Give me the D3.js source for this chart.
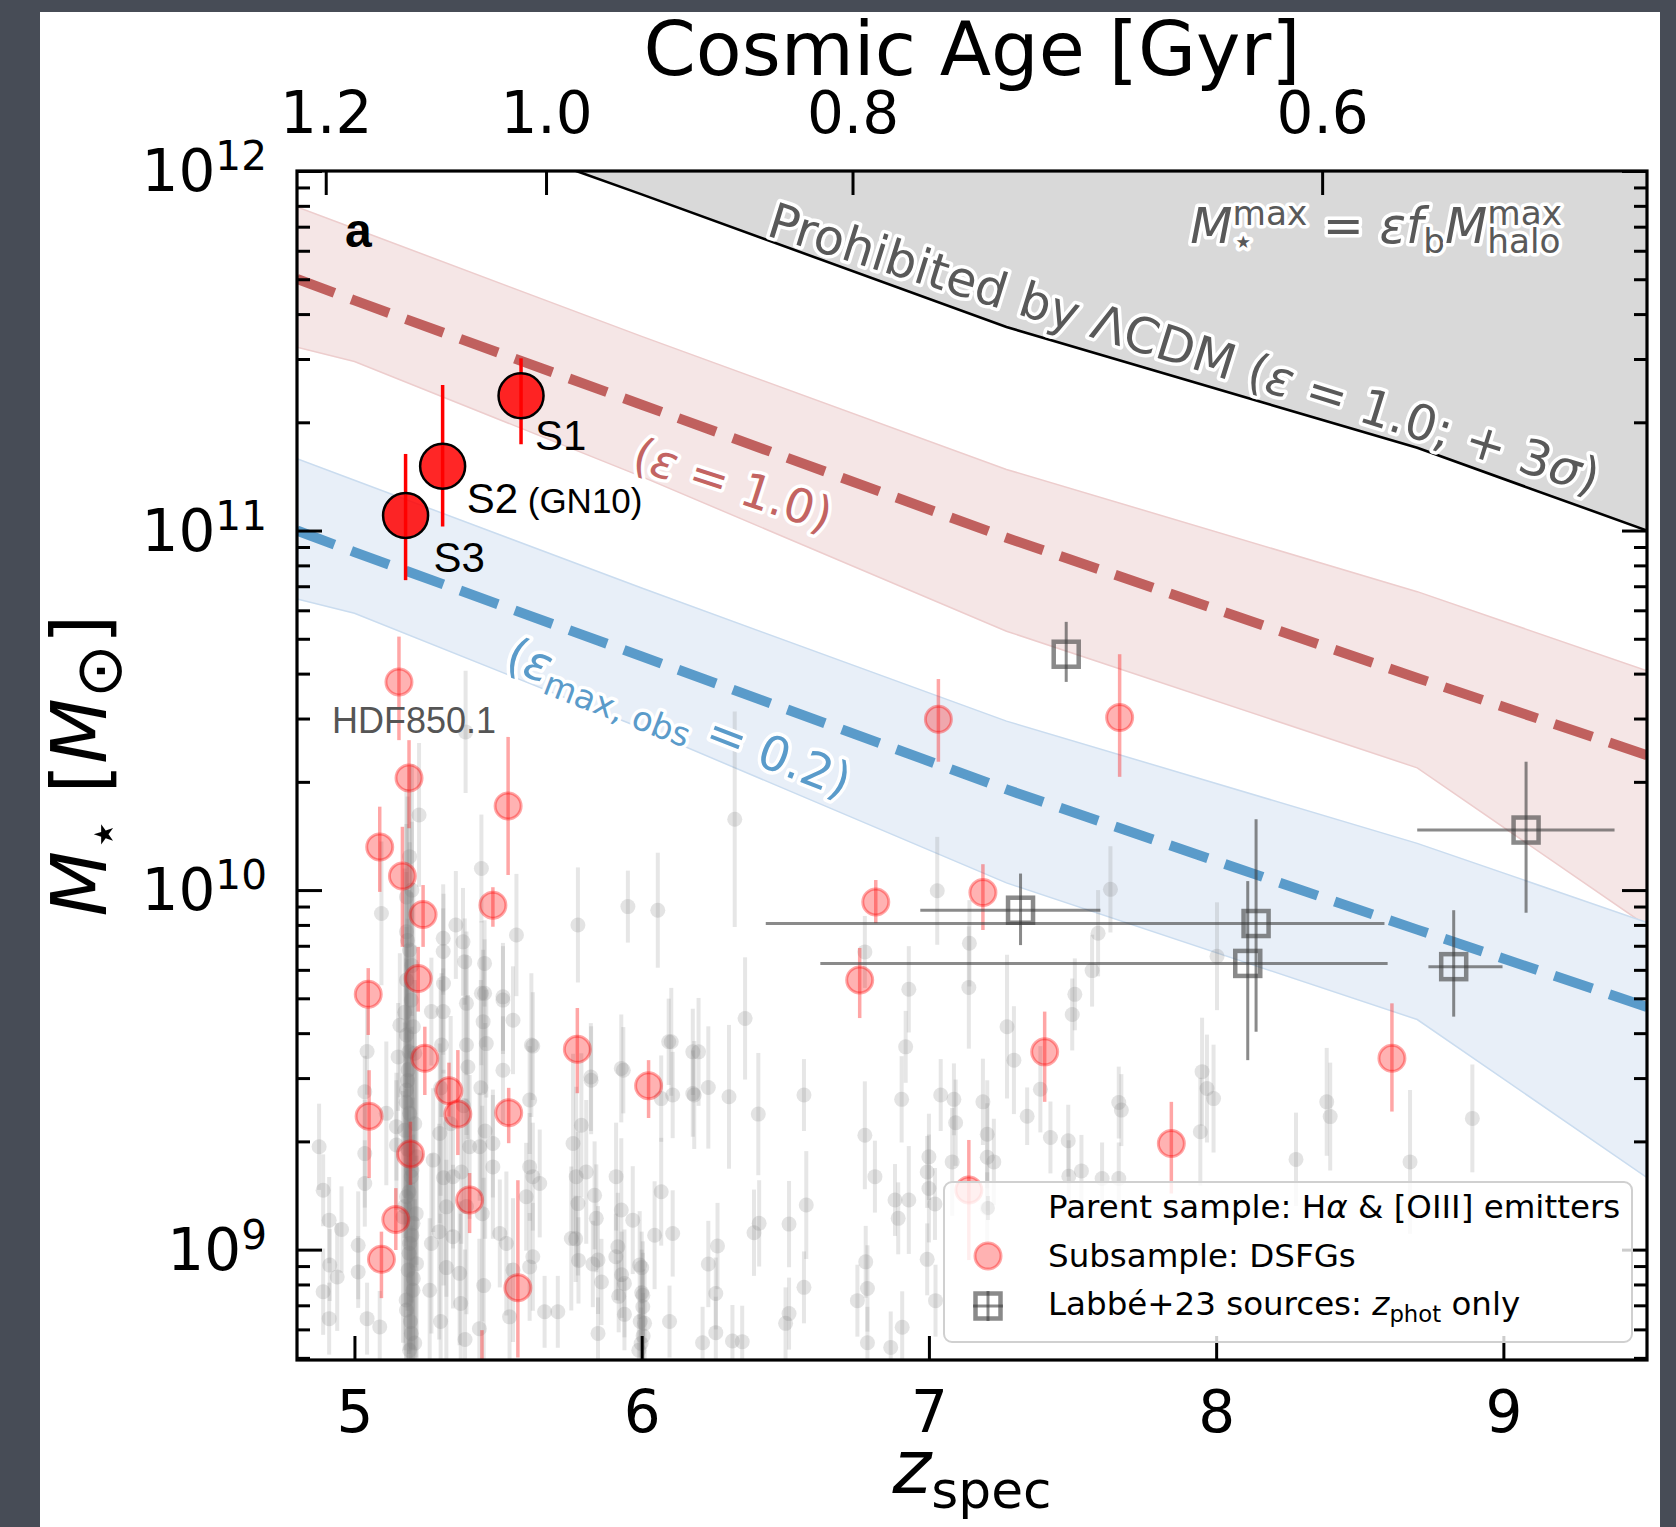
<!DOCTYPE html>
<html>
<head>
<meta charset="utf-8">
<script src="https://cdn.jsdelivr.net/npm/d3@7"></script>
<style>
  html, body { margin: 0; padding: 0; background: #474c56; }
  svg { display: block; }
  text { font-family: "DejaVu Sans", sans-serif; }
</style>
</head>
<body>
<svg id="chart" width="1676" height="1527"></svg>
<script>
// ---------------- data ----------------
const zTicks = [5, 6, 7, 8, 9];
const massTicks = [1e9, 1e10, 1e11, 1e12];
const massExp = ['9', '10', '11', '12'];
const ageLabels = ['1.2', '1.0', '0.8', '0.6'];
const ageTickZ = [4.90, 5.667, 6.734, 8.369];

// model curves, log10 M* at these redshifts
const bandZ = [4.8, 5.0, 6.0, 7.27, 8.7, 9.5];
const eps1Mid = [11.70, 11.64, 11.35, 10.98, 10.59, 10.375];
const eps1Hi = [11.90, 11.84, 11.54, 11.17, 10.83, 10.61];
const eps1Lo = [11.51, 11.47, 11.15, 10.72, 10.34, 9.90];
const eps02Mid = [11.00, 10.94, 10.65, 10.28, 9.89, 9.675];
const eps02Hi = [11.20, 11.14, 10.84, 10.47, 10.13, 9.91];
const eps02Lo = [10.81, 10.77, 10.45, 10.02, 9.64, 9.20];
const limitMax = [12.275, 12.22, 11.935, 11.566, 11.23, 11.0];

// parent sample: [z, log M*, error (dex)]
const parentPts = [
  [4.877, 9.286, 0.12], [4.891, 9.165, 0.10], [4.912, 9.082, 0.12], [4.955, 9.056, 0.12],
  [4.914, 8.957, 0.10], [4.940, 8.924, 0.15], [4.891, 8.883, 0.12], [4.912, 8.808, 0.10],
  [5.013, 9.012, 0.15], [5.013, 8.938, 0.10], [5.036, 9.439, 0.10], [5.036, 9.267, 0.15],
  [5.036, 9.184, 0.12], [5.044, 9.551, 0.12], [5.044, 8.808, 0.10], [5.088, 8.785, 0.10],
  [5.111, 9.379, 0.20], [5.146, 9.342, 0.15], [5.146, 9.291, 0.18], [5.152, 9.536, 0.15],
  [5.158, 9.624, 0.20], [5.181, 9.597, 0.30], [5.181, 9.444, 0.30], [5.198, 9.694, 0.30],
  [5.187, 9.500, 0.35], [5.192, 9.379, 0.30], [5.175, 9.332, 0.30], [5.198, 9.203, 0.35],
  [5.181, 9.147, 0.30], [5.204, 9.073, 0.35], [5.192, 9.017, 0.30], [5.187, 8.943, 0.30],
  [5.204, 8.887, 0.30], [5.181, 8.832, 0.30], [5.198, 8.767, 0.30], [5.210, 9.546, 0.30],
  [5.216, 9.258, 0.30], [5.169, 9.091, 0.35], [5.216, 8.961, 0.30], [5.192, 8.720, 0.30],
  [5.268, 9.662, 0.15], [5.309, 9.662, 0.12], [5.303, 9.569, 0.20], [5.297, 9.323, 0.25],
  [5.274, 9.249, 0.20], [5.268, 9.017, 0.25], [5.262, 8.887, 0.20], [5.320, 9.119, 0.25],
  [5.343, 9.203, 0.20], [5.343, 9.036, 0.20], [5.390, 9.685, 0.20], [5.390, 9.569, 0.25],
  [5.395, 9.508, 0.20], [5.401, 9.286, 0.20], [5.372, 9.216, 0.20], [5.366, 8.934, 0.20],
  [5.442, 9.713, 0.20], [5.448, 9.634, 0.20], [5.459, 9.573, 0.15], [5.436, 9.286, 0.15],
  [5.482, 9.295, 0.15], [5.482, 9.230, 0.20], [5.506, 9.045, 0.15], [5.517, 9.694, 0.15],
  [5.517, 9.499, 0.15], [5.552, 9.638, 0.15], [5.529, 9.017, 0.20], [5.552, 8.943, 0.20],
  [5.540, 8.813, 0.15], [5.610, 9.416, 0.15], [5.616, 9.569, 0.20], [5.610, 9.230, 0.15],
  [5.621, 9.203, 0.15], [5.598, 9.147, 0.15], [5.645, 9.184, 0.15], [5.621, 8.980, 0.15],
  [5.610, 8.952, 0.15], [5.662, 8.827, 0.10], [5.708, 8.827, 0.10], [5.755, 9.031, 0.20],
  [5.761, 9.295, 0.25], [5.772, 9.203, 0.25], [5.807, 9.216, 0.20], [5.778, 9.128, 0.20],
  [5.790, 9.346, 0.20], [5.836, 9.151, 0.15], [5.824, 9.471, 0.15], [5.842, 9.087, 0.15],
  [5.848, 8.971, 0.15], [5.848, 8.767, 0.10], [5.911, 9.203, 0.15], [5.929, 9.110, 0.20],
  [5.917, 9.008, 0.15], [5.929, 9.504, 0.15], [5.940, 8.906, 0.15], [5.969, 9.082, 0.15],
  [6.004, 8.873, 0.15], [6.004, 8.841, 0.15], [5.993, 8.957, 0.15], [6.010, 8.795, 0.15],
  [5.998, 8.739, 0.10], [6.045, 9.040, 0.15], [6.068, 9.161, 0.15], [6.103, 9.578, 0.15],
  [6.108, 9.045, 0.12], [6.097, 8.800, 0.10], [6.068, 9.420, 0.12], [6.108, 9.430, 0.12],
  [6.178, 9.550, 0.12], [6.178, 9.434, 0.12],
  [5.387, 10.440, 0.17], [5.225, 10.209, 0.20], [5.192, 10.093, 0.25], [5.442, 10.060, 0.15],
  [5.094, 9.935, 0.20], [5.181, 9.981, 0.30], [5.181, 9.884, 0.30], [5.353, 9.903, 0.15],
  [5.309, 9.866, 0.15], [5.378, 9.856, 0.15], [5.309, 9.829, 0.12], [5.384, 9.801, 0.12],
  [5.453, 9.796, 0.12], [5.564, 9.875, 0.17], [5.778, 9.903, 0.16], [5.952, 9.954, 0.10],
  [6.056, 9.944, 0.16], [5.192, 9.833, 0.30], [5.181, 9.750, 0.30], [5.453, 9.713, 0.15],
  [5.517, 9.703, 0.15], [6.324, 10.197, 0.30], [6.094, 9.578, 0.12], [5.936, 9.499, 0.12],
  [5.823, 9.480, 0.15], [5.621, 9.566, 0.15],
  [7.029, 9.998, 0.15], [7.632, 10.002, 0.12], [6.777, 9.828, 0.10], [7.141, 9.852, 0.12],
  [7.139, 9.729, 0.17], [6.930, 9.724, 0.12], [7.589, 9.880, 0.12], [7.568, 9.776, 0.10],
  [7.508, 9.710, 0.10], [7.499, 9.654, 0.10], [7.272, 9.620, 0.20], [7.296, 9.527, 0.15],
  [6.919, 9.564, 0.10], [6.198, 9.550, 0.15], [6.360, 9.643, 0.17], [6.232, 9.451, 0.17],
  [6.183, 9.430, 0.15], [6.304, 9.425, 0.20], [6.406, 9.377, 0.17], [6.565, 9.430, 0.10],
  [6.777, 9.318, 0.15], [6.905, 9.418, 0.12], [7.041, 9.430, 0.10], [7.087, 9.418, 0.10],
  [7.188, 9.411, 0.12], [7.342, 9.371, 0.08], [7.388, 9.446, 0.12], [7.423, 9.312, 0.10],
  [7.485, 9.303, 0.10], [7.661, 9.409, 0.10], [7.670, 9.388, 0.10], [7.093, 9.353, 0.12],
  [7.203, 9.321, 0.15], [7.000, 9.258, 0.12], [7.081, 9.244, 0.15], [7.203, 9.257, 0.15],
  [7.226, 9.244, 0.12], [6.994, 9.216, 0.10], [6.812, 9.203, 0.10], [6.930, 9.138, 0.15],
  [6.882, 9.138, 0.10], [6.893, 9.087, 0.10], [7.021, 9.127, 0.10], [7.000, 9.170, 0.15],
  [6.573, 9.124, 0.15], [6.409, 9.073, 0.12], [6.391, 9.047, 0.12], [6.513, 9.071, 0.12],
  [6.264, 9.010, 0.12], [6.232, 8.960, 0.12], [6.258, 8.878, 0.10], [6.565, 8.895, 0.10],
  [6.780, 8.966, 0.10], [6.786, 8.892, 0.12], [6.751, 8.858, 0.10], [6.994, 8.973, 0.10],
  [7.023, 8.858, 0.10], [6.513, 8.822, 0.10], [6.501, 8.795, 0.10], [6.258, 8.769, 0.10],
  [6.212, 8.741, 0.10], [6.316, 8.746, 0.10], [6.350, 8.744, 0.10], [6.786, 8.741, 0.10],
  [6.907, 8.784, 0.10], [6.867, 8.728, 0.10], [7.203, 9.115, 0.10], [7.487, 9.204, 0.10],
  [7.531, 9.219, 0.10], [7.661, 9.198, 0.10], [7.603, 9.198, 0.10],
  [8.003, 9.816, 0.15], [7.951, 9.495, 0.15], [7.968, 9.448, 0.15], [7.991, 9.420, 0.15],
  [7.945, 9.328, 0.15], [8.385, 9.411, 0.15], [8.397, 9.370, 0.15], [8.278, 9.251, 0.13],
  [8.675, 9.244, 0.20], [8.892, 9.365, 0.15],
  // dense strips near z = 5.2, 5.3, 5.4 and 6.0
  [5.185, 9.860, 0.40], [5.200, 9.790, 0.40], [5.175, 9.660, 0.40], [5.205, 9.620, 0.40],
  [5.190, 9.550, 0.45], [5.180, 9.410, 0.40], [5.210, 9.350, 0.40], [5.185, 9.280, 0.45],
  [5.200, 9.220, 0.40], [5.175, 9.120, 0.40], [5.215, 9.100, 0.40], [5.190, 8.990, 0.40],
  [5.205, 8.920, 0.40], [5.180, 8.860, 0.40], [5.195, 8.800, 0.40], [5.210, 8.740, 0.40],
  [5.185, 9.470, 0.45], [5.200, 9.040, 0.45], [5.190, 9.160, 0.45], [5.200, 10.000, 0.35],
  [5.300, 9.450, 0.30], [5.310, 9.200, 0.30], [5.295, 9.050, 0.30], [5.320, 8.950, 0.30],
  [5.300, 8.800, 0.30], [5.335, 9.350, 0.30], [5.310, 9.740, 0.25],
  [5.440, 9.450, 0.30], [5.445, 9.100, 0.30], [5.450, 8.900, 0.30], [5.435, 8.780, 0.25],
  [5.455, 9.330, 0.30], [5.380, 9.400, 0.30], [5.390, 9.120, 0.30], [5.370, 8.850, 0.25],
  [5.385, 8.750, 0.25],
  [6.000, 8.950, 0.10], [6.000, 8.880, 0.12], [5.995, 8.800, 0.10], [6.005, 8.760, 0.12],
  [5.990, 8.720, 0.10], [5.910, 8.980, 0.12], [5.930, 8.930, 0.12], [5.920, 8.870, 0.10],
  [5.940, 8.820, 0.10], [5.770, 9.030, 0.12], [5.780, 8.970, 0.12], [5.830, 8.960, 0.12],
  [5.860, 8.910, 0.12]
];

// DSFG subsample: [z, log M*, lower, upper]
const dsfgPts = [
  [5.155, 10.579, 10.417, 10.705], [5.190, 10.312, 10.172, 10.417], [5.088, 10.120, 9.995, 10.232],
  [5.167, 10.039, 9.842, 10.176], [5.239, 9.932, 9.842, 10.014], [5.535, 10.234, 10.042, 10.426],
  [5.482, 9.958, 9.898, 10.008], [5.222, 9.754, 9.662, 9.842], [5.048, 9.710, 9.597, 9.783],
  [5.245, 9.532, 9.430, 9.620], [5.329, 9.442, 9.370, 9.520], [5.360, 9.377, 9.263, 9.555],
  [5.051, 9.371, 9.199, 9.499], [5.537, 9.381, 9.296, 9.450], [5.195, 9.266, 9.180, 9.356],
  [5.401, 9.138, 9.046, 9.213], [5.144, 9.084, 8.999, 9.171], [5.094, 8.973, 8.865, 9.050],
  [5.569, 8.894, 8.700, 9.193], [5.776, 9.557, 9.435, 9.672], [6.024, 9.456, 9.366, 9.527],
  [6.815, 9.967, 9.908, 10.028], [7.188, 9.993, 9.889, 10.072], [6.759, 9.750, 9.644, 9.839],
  [7.403, 9.550, 9.411, 9.662], [7.139, 9.166, 8.971, 9.305], [7.844, 9.295, 9.156, 9.411],
  [8.612, 9.532, 9.384, 9.685], [7.033, 10.475, 10.357, 10.587], [7.664, 10.480, 10.315, 10.656],
  [5.444, 8.600, 8.450, 8.776]
];

// bright sources S1-S3: [z, log M*, lower, upper]
const sNames = ['S1', 'S2', 'S3'];
const sPts = [
  [5.580, 11.375, 11.240, 11.479],
  [5.307, 11.179, 11.011, 11.405],
  [5.178, 11.042, 10.862, 11.213]
];

// Labbe+23: [z, log M*, zLo, zHi, mLo, mHi]
const labbePts = [
  [7.478, 10.656, 7.478, 7.478, 10.579, 10.746],
  [9.079, 10.167, 8.700, 9.387, 9.937, 10.357],
  [7.319, 9.944, 6.970, 7.597, 9.847, 10.046],
  [8.139, 9.907, 6.432, 8.586, 9.606, 10.197],
  [8.110, 9.796, 6.622, 8.597, 9.527, 10.025],
  [8.827, 9.787, 8.739, 8.997, 9.648, 9.944]
];

// ---------------- layout ----------------
const W = 1676, H = 1527;
const P = { left: 297, right: 1647, top: 171, bottom: 1360 };
const svg = d3.select('#chart');

const x = d3.scaleLinear().domain([4.8, 9.5]).range([P.left, P.right]);
const y = d3.scaleLog().domain([Math.pow(10, 8.693), 1e12]).range([P.bottom, P.top]);
const yl = v => y(Math.pow(10, v));

// white panel on slate background
svg.append('rect').attr('x', 40).attr('y', 12).attr('width', 1620).attr('height', H - 12).attr('fill', '#fff');

svg.append('clipPath').attr('id', 'clip')
  .append('rect').attr('x', P.left).attr('y', P.top)
  .attr('width', P.right - P.left).attr('height', P.bottom - P.top);

const plot = svg.append('g').attr('clip-path', 'url(#clip)');

// helper for mathtext-like strings (sub / superscripts, italics)
function mathText(parent, px, py, parts, opt) {
  const size = opt.size;
  const g = parent.append('g').attr('transform', `translate(${px},${py}) rotate(${opt.rotate || 0})`);
  const row = g.append('g');
  let cx = 0;
  const put = (t, tx, ty, fs, it) => {
    const el = row.append('text').attr('x', tx).attr('y', ty)
      .attr('font-size', fs).attr('font-style', it ? 'italic' : 'normal')
      .attr('fill', opt.color || '#000').style('white-space', 'pre').text(t);
    if (opt.halo) {
      el.attr('stroke', '#fff').attr('stroke-width', opt.halo)
        .attr('stroke-linejoin', 'round').attr('paint-order', 'stroke');
    }
    return el.node().getComputedTextLength();
  };
  parts.forEach(p => {
    if (p.sup != null || p.sub != null) {
      const fs = size * (p.ss || 0.7);
      const w1 = p.sup != null ? put(p.sup, cx, -size * 0.36, fs, false) : 0;
      const w2 = p.sub != null ? put(p.sub, cx, size * 0.2, fs, false) : 0;
      cx += Math.max(w1, w2);
    } else {
      cx += put(p.t, cx, 0, size, p.it);
    }
  });
  const shift = opt.anchor === 'middle' ? -cx / 2 : opt.anchor === 'end' ? -cx : 0;
  row.attr('transform', `translate(${shift},0)`);
  return g;
}

// ---------------- shaded regions & model lines ----------------
const band = (lo, hi) => d3.area()
  .x((d, i) => x(bandZ[i])).y0((d, i) => yl(lo[i])).y1((d, i) => yl(hi[i]));
const line = arr => d3.line().x((d, i) => x(bandZ[i])).y((d, i) => yl(arr[i]));

// prohibited region above the max stellar mass line
plot.append('path').datum(bandZ)
  .attr('d', band(limitMax, bandZ.map(() => 12.5)))
  .attr('fill', '#d9d9d9');
plot.append('path').datum(bandZ).attr('d', line(limitMax))
  .attr('fill', 'none').attr('stroke', '#000').attr('stroke-width', 2.6);

plot.append('path').datum(bandZ).attr('d', band(eps1Lo, eps1Hi))
  .attr('fill', '#f5e6e6').attr('stroke', '#edcdcd').attr('stroke-width', 1.5);
plot.append('path').datum(bandZ).attr('d', band(eps02Lo, eps02Hi))
  .attr('fill', '#e8eff8').attr('stroke', '#cadcef').attr('stroke-width', 1.5);

plot.append('path').datum(bandZ).attr('d', line(eps1Mid))
  .attr('fill', 'none').attr('stroke', '#c0605e').attr('stroke-width', 10)
  .attr('stroke-dasharray', '40 18');
plot.append('path').datum(bandZ).attr('d', line(eps02Mid))
  .attr('fill', 'none').attr('stroke', '#5a9bca').attr('stroke-width', 10)
  .attr('stroke-dasharray', '40 18');

// ---------------- data points ----------------
const gPar = plot.append('g');
gPar.selectAll('line').data(parentPts).join('line')
  .attr('x1', d => x(d[0])).attr('x2', d => x(d[0]))
  .attr('y1', d => yl(d[1] - d[2])).attr('y2', d => yl(d[1] + d[2]))
  .attr('stroke', 'rgba(128,128,128,0.2)').attr('stroke-width', 4);
gPar.selectAll('circle').data(parentPts).join('circle')
  .attr('cx', d => x(d[0])).attr('cy', d => yl(d[1])).attr('r', 7.5)
  .attr('fill', 'rgba(128,128,128,0.22)');

const gDs = plot.append('g');
gDs.selectAll('line').data(dsfgPts).join('line')
  .attr('x1', d => x(d[0])).attr('x2', d => x(d[0]))
  .attr('y1', d => yl(d[2])).attr('y2', d => yl(d[3]))
  .attr('stroke', 'rgba(255,0,0,0.35)').attr('stroke-width', 3.5);
gDs.selectAll('circle').data(dsfgPts).join('circle')
  .attr('cx', d => x(d[0])).attr('cy', d => yl(d[1])).attr('r', 13)
  .attr('fill', 'rgba(255,0,0,0.3)').attr('stroke', 'rgba(255,0,0,0.35)').attr('stroke-width', 3);

// Labbe+23 squares with error crosses
const gLb = plot.append('g');
labbePts.forEach(d => {
  gLb.append('line').attr('x1', x(d[2])).attr('x2', x(d[3])).attr('y1', yl(d[1])).attr('y2', yl(d[1]))
    .attr('stroke', 'rgba(60,60,60,0.6)').attr('stroke-width', 3);
  gLb.append('line').attr('x1', x(d[0])).attr('x2', x(d[0])).attr('y1', yl(d[4])).attr('y2', yl(d[5]))
    .attr('stroke', 'rgba(60,60,60,0.6)').attr('stroke-width', 3);
  gLb.append('rect').attr('x', x(d[0]) - 12.5).attr('y', yl(d[1]) - 12.5)
    .attr('width', 25).attr('height', 25).attr('fill', 'none')
    .attr('stroke', 'rgba(60,60,60,0.6)').attr('stroke-width', 4.5);
});

// S1-S3
const gS = plot.append('g');
gS.selectAll('line').data(sPts).join('line')
  .attr('x1', d => x(d[0])).attr('x2', d => x(d[0]))
  .attr('y1', d => yl(d[2])).attr('y2', d => yl(d[3]))
  .attr('stroke', '#ff0000').attr('stroke-width', 3.5);
gS.selectAll('circle').data(sPts).join('circle')
  .attr('cx', d => x(d[0])).attr('cy', d => yl(d[1])).attr('r', 22.5)
  .attr('fill', 'rgba(255,0,0,0.85)').attr('stroke', '#000').attr('stroke-width', 2.5);

// ---------------- annotations ----------------
const ann = svg.append('g');
const sansFont = '"Liberation Sans", Arial, Helvetica, sans-serif';
const sLabelOffset = [[14, 54], [24, 47], [28, 57]];
sPts.forEach((d, i) => {
  const t = ann.append('text').attr('x', x(d[0]) + sLabelOffset[i][0]).attr('y', yl(d[1]) + sLabelOffset[i][1])
    .style('font-family', sansFont).attr('font-size', 42).text(sNames[i]);
  if (i === 1) t.append('tspan').attr('font-size', 35).text(' (GN10)');
});
ann.append('text').attr('x', 345).attr('y', 247)
  .style('font-family', sansFont).attr('font-weight', 'bold')
  .attr('font-size', 48).text('a');
ann.append('text').attr('x', 332).attr('y', 733)
  .style('font-family', sansFont).attr('fill', '#555')
  .attr('font-size', 36).text('HDF850.1');

mathText(ann, 765, 235, [
  { t: 'Prohibited by ΛCDM (' }, { t: 'ε', it: true }, { t: ' = 1.0; + 3' }, { t: 'σ', it: true }, { t: ')' }
], { size: 49, rotate: 17.4, color: '#595959', halo: 7 });

mathText(ann, 1562, 243, [
  { t: 'M', it: true }, { sup: 'max', sub: '⋆' }, { t: ' = ' }, { t: 'ε', it: true }, { t: 'f', it: true },
  { sub: 'b' }, { t: 'M', it: true }, { sup: 'max', sub: 'halo' }
], { size: 49, anchor: 'end', color: '#595959', halo: 7 });

mathText(ann, 728, 500, [
  { t: '(' }, { t: 'ε', it: true }, { t: ' = 1.0)' }
], { size: 47, rotate: 18, anchor: 'middle', color: '#c36462', halo: 7 });

mathText(ann, 673, 733, [
  { t: '(' }, { t: 'ε', it: true }, { sub: 'max, obs' }, { t: ' = 0.2)' }
], { size: 48, rotate: 21, anchor: 'middle', color: '#5a9bca', halo: 7 });

// ---------------- axes ----------------
const minorVals = [];
[8, 9, 10, 11].forEach(e => d3.range(2, 10).forEach(m => {
  const v = m * Math.pow(10, e);
  if (v > y.domain()[0] && v < 1e12) minorVals.push(v);
}));

const axes = svg.append('g');
const styleAxis = g => {
  g.select('.domain').remove();
  g.selectAll('line').attr('stroke', '#000').attr('stroke-width', 3);
};

axes.append('g').attr('transform', `translate(${P.left},0)`)
  .call(d3.axisLeft(y).tickValues(massTicks).tickSize(-25).tickFormat('')).call(styleAxis);
axes.append('g').attr('transform', `translate(${P.left},0)`)
  .call(d3.axisLeft(y).tickValues(minorVals).tickSize(-13).tickFormat('')).call(styleAxis);
axes.append('g').attr('transform', `translate(${P.right},0)`)
  .call(d3.axisRight(y).tickValues(massTicks).tickSize(-25).tickFormat('')).call(styleAxis);
axes.append('g').attr('transform', `translate(${P.right},0)`)
  .call(d3.axisRight(y).tickValues(minorVals).tickSize(-13).tickFormat('')).call(styleAxis);

const xAx = axes.append('g').attr('transform', `translate(0,${P.bottom})`)
  .call(d3.axisBottom(x).tickValues(zTicks).tickSize(-24).tickFormat(d3.format('d'))).call(styleAxis);
xAx.selectAll('text').attr('y', 72).attr('dy', 0).attr('font-size', 58).attr('fill', '#000')
  .style('font-family', '"DejaVu Sans", sans-serif');

const topAx = axes.append('g').attr('transform', `translate(0,${P.top})`)
  .call(d3.axisTop(x).tickValues(ageTickZ).tickSize(-24).tickFormat((d, i) => ageLabels[i])).call(styleAxis);
topAx.selectAll('text').attr('y', -38).attr('dy', 0).attr('font-size', 58).attr('fill', '#000')
  .style('font-family', '"DejaVu Sans", sans-serif');

// log tick labels 10^n
massTicks.forEach((v, i) => {
  mathText(axes, 267, y(v) + 20, [{ t: '10' }, { sup: massExp[i] }], { size: 58, anchor: 'end' });
});

// frame
axes.append('rect').attr('x', P.left).attr('y', P.top)
  .attr('width', P.right - P.left).attr('height', P.bottom - P.top)
  .attr('fill', 'none').attr('stroke', '#000').attr('stroke-width', 3.2);

// axis titles
axes.append('text').attr('x', (P.left + P.right) / 2).attr('y', 75).attr('text-anchor', 'middle')
  .attr('font-size', 75).text('Cosmic Age [Gyr]');
mathText(axes, (P.left + P.right) / 2, 1493, [{ t: 'z', it: true }, { sub: 'spec' }],
  { size: 74, anchor: 'middle' });
mathText(axes, 106, (P.top + P.bottom) / 2, [
  { t: 'M', it: true }, { sub: '⋆' }, { t: ' [' }, { t: 'M', it: true }, { sub: '⊙', ss: 0.85 }, { t: ']' }
], { size: 76, rotate: -90, anchor: 'middle' });

// ---------------- legend ----------------
const lg = svg.append('g');
lg.append('rect').attr('x', 944).attr('y', 1182).attr('width', 688).attr('height', 160).attr('rx', 8)
  .attr('fill', 'rgba(255,255,255,0.8)').attr('stroke', '#d0d0d0').attr('stroke-width', 2);
lg.append('line').attr('x1', 988).attr('x2', 988).attr('y1', 1196).attr('y2', 1220)
  .attr('stroke', 'rgba(128,128,128,0.12)').attr('stroke-width', 4);
lg.append('circle').attr('cx', 988).attr('cy', 1208).attr('r', 7).attr('fill', 'rgba(128,128,128,0.12)');
lg.append('circle').attr('cx', 988).attr('cy', 1256).attr('r', 13)
  .attr('fill', 'rgba(255,0,0,0.3)').attr('stroke', 'rgba(255,0,0,0.35)').attr('stroke-width', 3);
lg.append('line').attr('x1', 973).attr('x2', 1003).attr('y1', 1306).attr('y2', 1306)
  .attr('stroke', 'rgba(60,60,60,0.6)').attr('stroke-width', 3);
lg.append('line').attr('x1', 988).attr('x2', 988).attr('y1', 1291).attr('y2', 1321)
  .attr('stroke', 'rgba(60,60,60,0.6)').attr('stroke-width', 3);
lg.append('rect').attr('x', 975.5).attr('y', 1293.5).attr('width', 25).attr('height', 25)
  .attr('fill', 'none').attr('stroke', 'rgba(60,60,60,0.6)').attr('stroke-width', 4.5);

mathText(lg, 1048, 1218, [{ t: 'Parent sample: H' }, { t: 'α', it: true }, { t: ' & [OIII] emitters' }], { size: 32.5 });
mathText(lg, 1048, 1267, [{ t: 'Subsample: DSFGs' }], { size: 32.5 });
mathText(lg, 1048, 1315, [{ t: 'Labbé+23 sources: ' }, { t: 'z', it: true }, { sub: 'phot' }, { t: ' only' }], { size: 32.5 });
</script>
</body>
</html>
